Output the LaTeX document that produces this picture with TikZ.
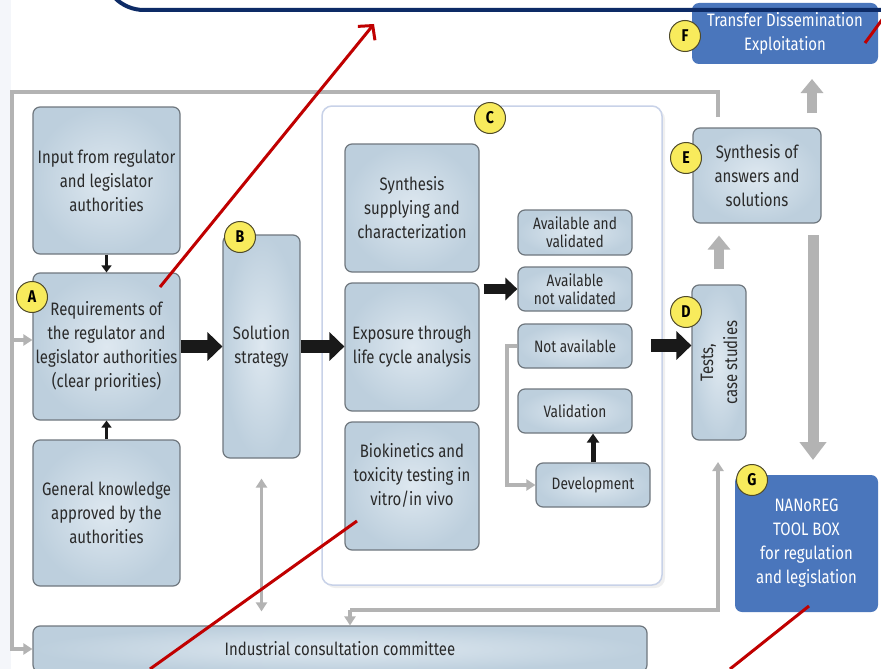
\documentclass[tikz,border=0pt]{standalone}
\usepackage{fontspec}
\setmainfont{Fira Sans}[FakeStretch=0.83]
\usetikzlibrary{arrows.meta,shadows}

\definecolor{boxlight}{HTML}{DEE8F0}
\definecolor{boxdark}{HTML}{BDCFDD}
\definecolor{boxborder}{HTML}{6F777E}
\definecolor{textcol}{HTML}{2A2A2A}
\definecolor{tagyellow}{HTML}{F8EB5C}
\definecolor{tagborder}{HTML}{4F4A2A}
\definecolor{toolblue}{HTML}{4A76BC}
\definecolor{arrowgray}{HTML}{B3B3B3}
\definecolor{markred}{HTML}{C00000}
\definecolor{navy}{HTML}{0D2B66}
\definecolor{cborder}{HTML}{C8D2E8}
\definecolor{pale}{HTML}{F4F6FA}

\tikzset{
  box/.style={draw=boxborder, line width=1.2pt, rounded corners=7pt,
    inner color=boxlight, outer color=boxdark, align=center, text=textcol,
    inner sep=0pt, font=\fontsize{18}{24}\selectfont},
  smallbox/.style={box, font=\fontsize{16.5}{18}\selectfont},
  toolbox/.style={fill=toolblue, rounded corners=7pt, align=center, text=white,
    inner sep=0pt, font=\fontsize{18}{24}\selectfont},
  tag/.style={circle, fill=tagyellow, draw=tagborder, line width=1pt,
    minimum size=31pt, inner sep=0pt, text=black, font=\bfseries\fontsize{17}{17}\selectfont},
  blockarrow/.style={line width=13pt, draw=black!90, -{Triangle[length=15pt,width=28pt]}},
  midarrow/.style={line width=10pt, draw=black!90, -{Triangle[length=12pt,width=22pt]}},
  thinarrow/.style={line width=3pt, draw=black!90, -{Triangle[length=7pt,width=10pt]}},
  devarrow/.style={line width=5pt, draw=black!90, -{Triangle[length=9pt,width=12pt]}},
  grayline/.style={line width=3.5pt, draw=arrowgray},
  graytip/.style={-{Triangle[length=9pt,width=11pt]}},
  fatgray/.style={line width=10pt, draw=arrowgray, -{Triangle[length=14pt,width=22pt]}},
  biggray/.style={line width=11pt, draw=arrowgray, -{Triangle[length=18pt,width=26pt]}},
  redmark/.style={line width=3pt, draw=markred}
}

\begin{document}
\begin{tikzpicture}[x=1pt,y=-1pt]
  \clip (0,0) rectangle (881,669);
  \fill[pale] (0,0) rectangle (881,669);
  \fill[white] (11,0) rectangle (881,669);

  % left column
  \node[box, minimum width=147, minimum height=147] (input) at (106.5,180.5)
    {Input from regulator\\and legislator\\authorities};
  \node[box, minimum width=147, minimum height=147] (req) at (106.5,346.5)
    {Requirements of\\the regulator and\\legislator authorities\\(clear priorities)};
  \node[box, minimum width=147, minimum height=146] (know) at (106.5,513)
    {General knowledge\\approved by the\\authorities};
  \node[box, minimum width=77, minimum height=223] (strat) at (261.5,346.5)
    {Solution\\strategy};

  % block C
  \node[draw=cborder, line width=1.5pt, fill=white, rounded corners=10pt,
    drop shadow={shadow xshift=3pt, shadow yshift=-3pt, opacity=0.12},
    minimum width=340, minimum height=479] (blockC) at (492,345.5) {};
  \node[box, minimum width=134, minimum height=128] (synth) at (412,208)
    {Synthesis\\supplying and\\characterization};
  \node[box, minimum width=134, minimum height=128] (expo) at (412,347)
    {Exposure through\\life cycle analysis};
  \node[box, minimum width=134, minimum height=128] (bio) at (412,486)
    {Biokinetics and\\toxicity testing in\\vitro/in vivo\\\mbox{}};
  \node[smallbox, minimum width=114, minimum height=45] (availv) at (575,232.5)
    {Available and\\validated};
  \node[smallbox, minimum width=114, minimum height=44] (availnv) at (575,289)
    {Available\\not validated};
  \node[smallbox, minimum width=114, minimum height=44] (notavail) at (575,346)
    {Not available};
  \node[smallbox, minimum width=114, minimum height=44] (valid) at (575,411)
    {Validation};
  \node[smallbox, minimum width=114, minimum height=44] (devel) at (593,485)
    {Development};

  % right column
  \node[box, rotate=90, minimum width=155, minimum height=54] (tests) at (719,362.5)
    {Tests,\\case studies};
  \node[box, minimum width=128, minimum height=95] (answers) at (757,175.5)
    {Synthesis of\\answers and\\solutions};
  \node[toolbox, minimum width=186, minimum height=61] (transfer) at (785,33.5)
    {Transfer Dissemination\\Exploitation};
  \node[toolbox, minimum width=143, minimum height=137] (toolboxG) at (806.5,543.5)
    {NANoREG\\TOOL BOX\\for regulation\\and legislation};
  \node[box, minimum width=614, minimum height=46] (committee) at (340,649)
    {Industrial consultation committee};

  % letters
  \node[tag] (tagA) at (32,297) {A};
  \node[tag] (tagB) at (240,237) {B};
  \node[tag] (tagC) at (490,118) {C};
  \node[tag] (tagD) at (686,312) {D};
  \node[tag] (tagE) at (686,158) {E};
  \node[tag] (tagF) at (685,36) {F};
  \node[tag] (tagG) at (752,480) {G};

  % black arrows
  \draw[thinarrow] (input.south) -- (req.north);
  \draw[thinarrow] (know.north) -- (req.south);
  \draw[blockarrow] (req.east) -- (strat.west);
  \draw[blockarrow] (strat.east) -- (strat.east -| expo.west);
  \draw[midarrow] ([xshift=4pt]expo.east |- availnv.west) -- (availnv.west);
  \draw[devarrow] (devel.north) -- (devel.north |- valid.south);
  \draw[blockarrow] ([xshift=-12pt]blockC.east) -- (blockC.east -| tests.north);

  % gray connectors
  \coordinate (frameE) at (718,117);
  \coordinate (frameTR) at (718,92);
  \coordinate (frameTL) at (12,92);
  \coordinate (frameA) at (12,340);
  \draw[grayline, graytip] (frameE) -- (frameTR) -- (frameTL) |- (committee.west);
  \draw[grayline, graytip] (frameA) -- (frameA -| req.west);
  \draw[grayline, graytip] (notavail.west) -| (507,485) -- (devel.west);
  \coordinate (loopL) at (350,610);
  \coordinate (loopR) at (718,610);
  \coordinate (loopD) at (718,462);
  \draw[grayline, graytip] (loopL) -- (loopR) -- (loopD);
  \draw[grayline, graytip] (loopL) -- (loopL |- committee.north);
  \draw[grayline, {Triangle[length=9pt,width=11pt]}-{Triangle[length=9pt,width=11pt]}]
    ([yshift=-20pt]strat.south) -- ([yshift=14pt]committee.north -| strat.south);
  \draw[fatgray] ([yshift=15pt]tests.east) -- ([yshift=-12pt]answers.south -| tests.east);
  \draw[fatgray] (812,113) -- (812,79);
  \draw[biggray] (813,235) -- (813,460);

  % overlay marks
  \draw[navy, line width=4pt, rounded corners=41pt] (103,-60) -- (103,10) -- (920,10);
  \draw[redmark, -{Straight Barb[length=10pt,width=22pt]}] (160,287) -- (374,24);
  \draw[redmark] (357,521) -- (150,669);
  \draw[redmark] (809,606) -- (730,669);
  \draw[redmark] (865,43) -- (884,17);
\end{tikzpicture}
\end{document}
